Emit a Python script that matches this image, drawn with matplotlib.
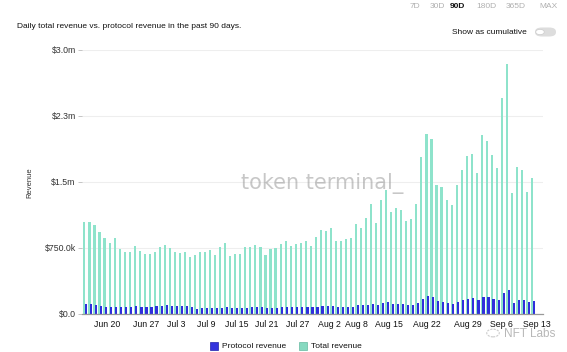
import matplotlib
matplotlib.use("Agg")
import matplotlib.pyplot as plt
from matplotlib.patches import FancyBboxPatch, Circle, Rectangle
import numpy as np

# ---- data (values in $ millions), 90 days Jun 16 .. Sep 13 ----
total_revenue = [
    1.04, 1.04, 1.01, 0.93, 0.86, 0.81, 0.86, 0.74, 0.70, 0.71,
    0.77, 0.72, 0.68, 0.68, 0.71, 0.76, 0.78, 0.75, 0.70, 0.69,
    0.71, 0.65, 0.67, 0.71, 0.71, 0.73, 0.67, 0.76, 0.81, 0.66,
    0.68, 0.68, 0.76, 0.76, 0.78, 0.76, 0.67, 0.74, 0.75, 0.80,
    0.83, 0.77, 0.79, 0.81, 0.83, 0.77, 0.87, 0.95, 0.94, 0.98,
    0.83, 0.83, 0.85, 0.86, 1.02, 0.98, 1.09, 1.25, 1.03, 1.30,
    1.41, 1.16, 1.20, 1.18, 1.06, 1.08, 1.25, 1.78, 2.05, 1.99,
    1.47, 1.44, 1.30, 1.24, 1.47, 1.64, 1.79, 1.82, 1.60, 2.03,
    1.97, 1.81, 1.66, 2.45, 2.84, 1.38, 1.67, 1.64, 1.39, 1.55,
]
protocol_revenue = [
    0.114, 0.114, 0.100, 0.087, 0.080, 0.076, 0.080, 0.080, 0.080, 0.080,
    0.090, 0.080, 0.080, 0.080, 0.087, 0.090, 0.098, 0.090, 0.087, 0.087,
    0.087, 0.080, 0.060, 0.068, 0.068, 0.068, 0.068, 0.072, 0.080, 0.065,
    0.065, 0.065, 0.072, 0.076, 0.080, 0.080, 0.065, 0.072, 0.072, 0.080,
    0.080, 0.076, 0.076, 0.080, 0.080, 0.076, 0.076, 0.090, 0.090, 0.090,
    0.080, 0.080, 0.080, 0.080, 0.100, 0.098, 0.106, 0.117, 0.106, 0.130,
    0.136, 0.117, 0.117, 0.117, 0.106, 0.106, 0.120, 0.174, 0.200, 0.197,
    0.144, 0.140, 0.120, 0.114, 0.140, 0.163, 0.174, 0.180, 0.160, 0.197,
    0.193, 0.174, 0.160, 0.240, 0.277, 0.130, 0.163, 0.163, 0.133, 0.148,
]
xtick_labels = ["Jun 20", "Jun 27", "Jul 3", "Jul 9", "Jul 15", "Jul 21", "Jul 27",
                "Aug 2", "Aug 8", "Aug 15", "Aug 22", "Aug 29", "Sep 6", "Sep 13"]
xtick_pos = [4.3, 12.1, 18.0, 24.0, 30.2, 36.1, 42.2, 48.5, 53.9, 60.4, 68.0, 76.0, 82.7, 89.8]
ytick_vals = [0.0, 0.75, 1.5, 2.25, 3.0]
ytick_labels = ["$0.0", "$750.0k", "$1.5m", "$2.3m", "$3.0m"]
range_buttons = ["7D", "30D", "90D", "180D", "365D", "MAX"]

GREEN = "#8ee3cb"
BLUE = "#2f2fdc"
FONT = "Liberation Sans"

plt.rcParams["font.family"] = [FONT, "DejaVu Sans"]

W, H = 567, 352
fig = plt.figure(figsize=(W / 100, H / 100), dpi=100)
ax = fig.add_axes([82 / W, 1 - 314 / H, (543 - 82) / W, (314 - 50) / H])

x = np.arange(len(total_revenue))
ax.bar(x - 0.17, total_revenue, width=0.42, color=GREEN, zorder=2, linewidth=0)
ax.bar(x + 0.17, protocol_revenue, width=0.42, color=BLUE, zorder=3, linewidth=0)

ax.set_xlim(-0.65, 91.0)
ax.set_ylim(0, 3.0)
ax.set_yticks(ytick_vals)
ax.set_yticklabels(ytick_labels, fontsize=6.3, color="#333333")
ax.set_xticks(xtick_pos)
ax.set_xticklabels(xtick_labels, fontsize=6.3, color="#111111")
ax.tick_params(axis="y", length=3, width=0.6, color="#bbbbbb", pad=1.5)
ax.tick_params(axis="x", length=0, pad=4)
ax.grid(axis="y", color="#eeeeee", linewidth=0.8, zorder=0)
ax.set_axisbelow(True)
for s in ["top", "right", "left"]:
    ax.spines[s].set_visible(False)
ax.spines["bottom"].set_color("#999999")
ax.spines["bottom"].set_linewidth(0.9)
ax.spines["bottom"].set_zorder(4)

fig.text(30 / W, 1 - 183 / H, "Revenue", rotation=90, fontsize=5.5,
         color="#333333", ha="center", va="center")

# watermark
fig.text(322 / W, 1 - 183 / H, "token terminal_", fontsize=15, color="#9a9a9a",
         alpha=0.55, ha="center", va="center", zorder=10, family="DejaVu Sans")
fig.text(530 / W, 1 - 334 / H, "NFT Labs", fontsize=8.5, color="#888888", alpha=0.6,
         ha="center", va="center", zorder=10)
fig.patches.append(Circle((493 / W, 1 - 333 / H), 0.011, transform=fig.transFigure,
                          fill=False, edgecolor="#aaaaaa", linewidth=0.8, alpha=0.6,
                          linestyle=(0, (2, 1))))

# title
fig.text(17 / W, 1 - 27 / H, "Daily total revenue vs. protocol revenue in the past 90 days.",
         fontsize=6, color="#111111", ha="left", va="center")

# range buttons
btn_x = [415, 437, 457, 486, 516, 548]
for lbl, bx in zip(range_buttons, btn_x):
    sel = lbl == "90D"
    fig.text(bx / W, 1 - 7 / H, lbl, fontsize=6, ha="center", va="center",
             color="#111111" if sel else "#b0b0b0", weight="bold" if sel else "normal")

# cumulative toggle
fig.text(527 / W, 1 - 32 / H, "Show as cumulative", fontsize=6, ha="right",
         va="center", color="#111111")
fig.patches.append(FancyBboxPatch((535 / W, 1 - 36.5 / H), 21 / W, 9 / H,
                                  boxstyle="round,pad=0,rounding_size=0.012",
                                  transform=fig.transFigure, facecolor="#dddddd",
                                  edgecolor="none"))
fig.patches.append(Circle((540 / W, 1 - 32 / H), 0.0075, transform=fig.transFigure,
                          facecolor="white", edgecolor="#cccccc", linewidth=0.5))

# legend
fig.patches.append(Rectangle((210 / W, 1 - 350 / H), 8 / W, 8 / H, transform=fig.transFigure,
                             facecolor="#3333dd", edgecolor="#2222aa", linewidth=0.5))
fig.text(222 / W, 1 - 346 / H, "Protocol revenue", fontsize=6, ha="left", va="center",
         color="#111111")
fig.patches.append(Rectangle((299 / W, 1 - 350 / H), 8 / W, 8 / H, transform=fig.transFigure,
                             facecolor="#86d9c0", edgecolor="#66b9a0", linewidth=0.5))
fig.text(311 / W, 1 - 346 / H, "Total revenue", fontsize=6, ha="left", va="center",
         color="#111111")

fig.savefig("out.png", dpi=100)
